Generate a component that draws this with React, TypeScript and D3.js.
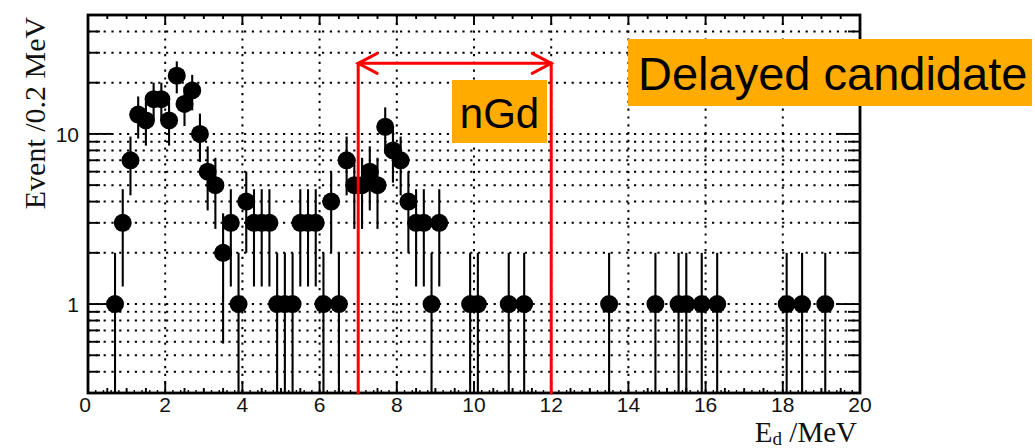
import React from "react";
import * as d3 from "d3";

// Delayed-candidate energy spectrum, 0.2 MeV bins (bin centres, counts)
const binCenters = [
  0.7, 0.9, 1.1, 1.3, 1.5, 1.7, 1.9, 2.1, 2.3, 2.5, 2.7, 2.9, 3.1, 3.3, 3.5, 3.7, 3.9,
  4.1, 4.3, 4.5, 4.7, 4.9, 5.1, 5.3, 5.5, 5.7, 5.9, 6.1, 6.3, 6.5, 6.7, 6.9, 7.1, 7.3,
  7.5, 7.7, 7.9, 8.1, 8.3, 8.5, 8.7, 8.9, 9.1, 9.9, 10.1, 10.9, 11.3, 13.5, 14.7, 15.3,
  15.5, 15.9, 16.3, 18.1, 18.5, 19.1,
];
const counts = [
  1, 3, 7, 13, 12, 16, 16, 12, 22, 15, 18, 10, 6, 5, 2, 3, 1,
  4, 3, 3, 3, 1, 1, 1, 3, 3, 3, 1, 4, 1, 7, 5, 5, 6,
  5, 11, 8, 7, 4, 3, 3, 1, 3, 1, 1, 1, 1, 1, 1, 1,
  1, 1, 1, 1, 1, 1,
];

const xDomain = [0, 20];
const yDomain = [0.3, 50];
const xTickLabels = [0, 2, 4, 6, 8, 10, 12, 14, 16, 18, 20];
const yMajorTicks = [1, 10];
const yMinorTicks = [0.4, 0.5, 0.6, 0.7, 0.8, 0.9, 2, 3, 4, 5, 6, 7, 8, 9, 20, 30, 40];
const nGdWindow = [7, 12];
const arrowLevel = 26;

const W = 1035;
const H = 448;
const L = 88, R = 860, T = 15, B = 393;

const SANS = "'Liberation Sans', Arial, Helvetica, sans-serif";
const SERIF = "'Liberation Serif', 'Times New Roman', Times, serif";
const ORANGE = "#ffab00";

export default function App() {
  const x = d3.scaleLinear().domain(xDomain).range([L, R]);
  const y = d3.scaleLog().domain(yDomain).range([B, T]);

  const gridX = d3.range(2, 20, 2);
  const gridY = [...yMinorTicks, ...yMajorTicks];
  const minorX = d3.range(0, 20.001, 0.5).filter((v) => Math.abs(v / 2 - Math.round(v / 2)) > 1e-6);
  const tinyX = d3.range(0, 20.001, 0.2);

  const clamp = (v: number) => Math.max(yDomain[0], Math.min(yDomain[1], v));

  const ax = x(nGdWindow[0]);
  const bx = x(nGdWindow[1]);
  const ay = y(arrowLevel);

  return (
    <svg
      width={W}
      height={H}
      viewBox={`0 0 ${W} ${H}`}
      style={{ position: "absolute", left: 0, top: 0, background: "#fff" }}
    >
      <defs>
        <clipPath id="frame">
          <rect x={L} y={T} width={R - L} height={B - T} />
        </clipPath>
      </defs>
      <rect x={0} y={0} width={W} height={H} fill="#fff" />

      {/* grid */}
      <g stroke="#000" strokeWidth={2} strokeDasharray="2.2 5.6" fill="none">
        {gridX.map((v) => (
          <line key={"gx" + v} x1={x(v)} x2={x(v)} y1={T} y2={B} />
        ))}
        {gridY.map((v) => (
          <line key={"gy" + v} x1={L} x2={R} y1={y(v)} y2={y(v)} />
        ))}
      </g>

      {/* ticks */}
      <g stroke="#000" strokeWidth={1.9}>
        {xTickLabels.map((v) => (
          <g key={"xt" + v}>
            <line x1={x(v)} x2={x(v)} y1={B} y2={B - 12} />
            <line x1={x(v)} x2={x(v)} y1={T} y2={T + 10} />
          </g>
        ))}
        {minorX.map((v) => (
          <g key={"xm" + v}>
            <line x1={x(v)} x2={x(v)} y1={B} y2={B - 5} />
            <line x1={x(v)} x2={x(v)} y1={T} y2={T + 4} />
          </g>
        ))}
        {tinyX.map((v) => (
          <line key={"xs" + v} x1={x(v)} x2={x(v)} y1={B} y2={B - 3} strokeWidth={1.4} />
        ))}
        {yMajorTicks.map((v) => (
          <g key={"ym" + v}>
            <line x1={L} x2={L + 24} y1={y(v)} y2={y(v)} />
            <line x1={R} x2={R - 24} y1={y(v)} y2={y(v)} />
          </g>
        ))}
        {yMinorTicks.map((v) => (
          <g key={"yn" + v}>
            <line x1={L} x2={L + 12} y1={y(v)} y2={y(v)} />
            <line x1={R} x2={R - 12} y1={y(v)} y2={y(v)} />
          </g>
        ))}
      </g>

      {/* data */}
      <g clipPath="url(#frame)">
        {binCenters.map((c, i) => {
          const n = counts[i];
          const e = Math.sqrt(n);
          const lo = n - e > 0 ? clamp(n - e) : yDomain[0];
          const hi = clamp(n + e);
          return (
            <line
              key={"e" + i}
              x1={x(c)}
              x2={x(c)}
              y1={y(lo)}
              y2={y(hi)}
              stroke="#000"
              strokeWidth={2.1}
            />
          );
        })}
        {binCenters.map((c, i) => (
          <circle key={"p" + i} cx={x(c)} cy={y(counts[i])} r={9} fill="#000" />
        ))}
      </g>

      {/* frame */}
      <rect x={L} y={T} width={R - L} height={B - T} fill="none" stroke="#000" strokeWidth={2.8} />

      {/* tick labels */}
      <g fontFamily={SANS} fontSize={21} fill="#111">
        {xTickLabels.map((v) => (
          <text key={"xl" + v} x={x(v) - (v === 0 ? 3 : 0)} y={412} textAnchor="middle">
            {v}
          </text>
        ))}
        {yMajorTicks.map((v) => (
          <text key={"yl" + v} x={L - 9} y={y(v) + 8} textAnchor="end">
            {v}
          </text>
        ))}
      </g>

      {/* axis titles */}
      <text
        transform={`translate(45,113) rotate(-90)`}
        textAnchor="middle"
        fontFamily={SERIF}
        fontSize={30}
        fill="#111"
      >
        Event /0.2 MeV
      </text>
      <text x={857} y={442} textAnchor="end" fontFamily={SERIF} fontSize={29} fill="#111">
        E
        <tspan fontSize={19} dy={3}>d</tspan>
        <tspan dy={-3}> /MeV</tspan>
      </text>

      {/* nGd window */}
      <g stroke="#ff0000" strokeWidth={3} fill="none" strokeLinecap="round">
        <line x1={ax} x2={ax} y1={B} y2={ay} />
        <line x1={bx} x2={bx} y1={B} y2={ay} />
        <line x1={ax} x2={bx} y1={ay} y2={ay} />
        <polyline points={`${ax + 19},${ay - 10} ${ax},${ay} ${ax + 19},${ay + 10}`} />
        <polyline points={`${bx - 19},${ay - 10} ${bx},${ay} ${bx - 19},${ay + 10}`} />
      </g>

      {/* labels */}
      <rect x={452} y={80} width={95} height={63} fill={ORANGE} />
      <text x={499.5} y={127.5} textAnchor="middle" fontFamily={SANS} fontSize={42} fill="#000">
        nGd
      </text>
      <rect x={628} y={39} width={404} height={67} fill={ORANGE} />
      <text x={638} y={90} fontFamily={SANS} fontSize={47} fill="#000">
        Delayed candidate
      </text>
    </svg>
  );
}
